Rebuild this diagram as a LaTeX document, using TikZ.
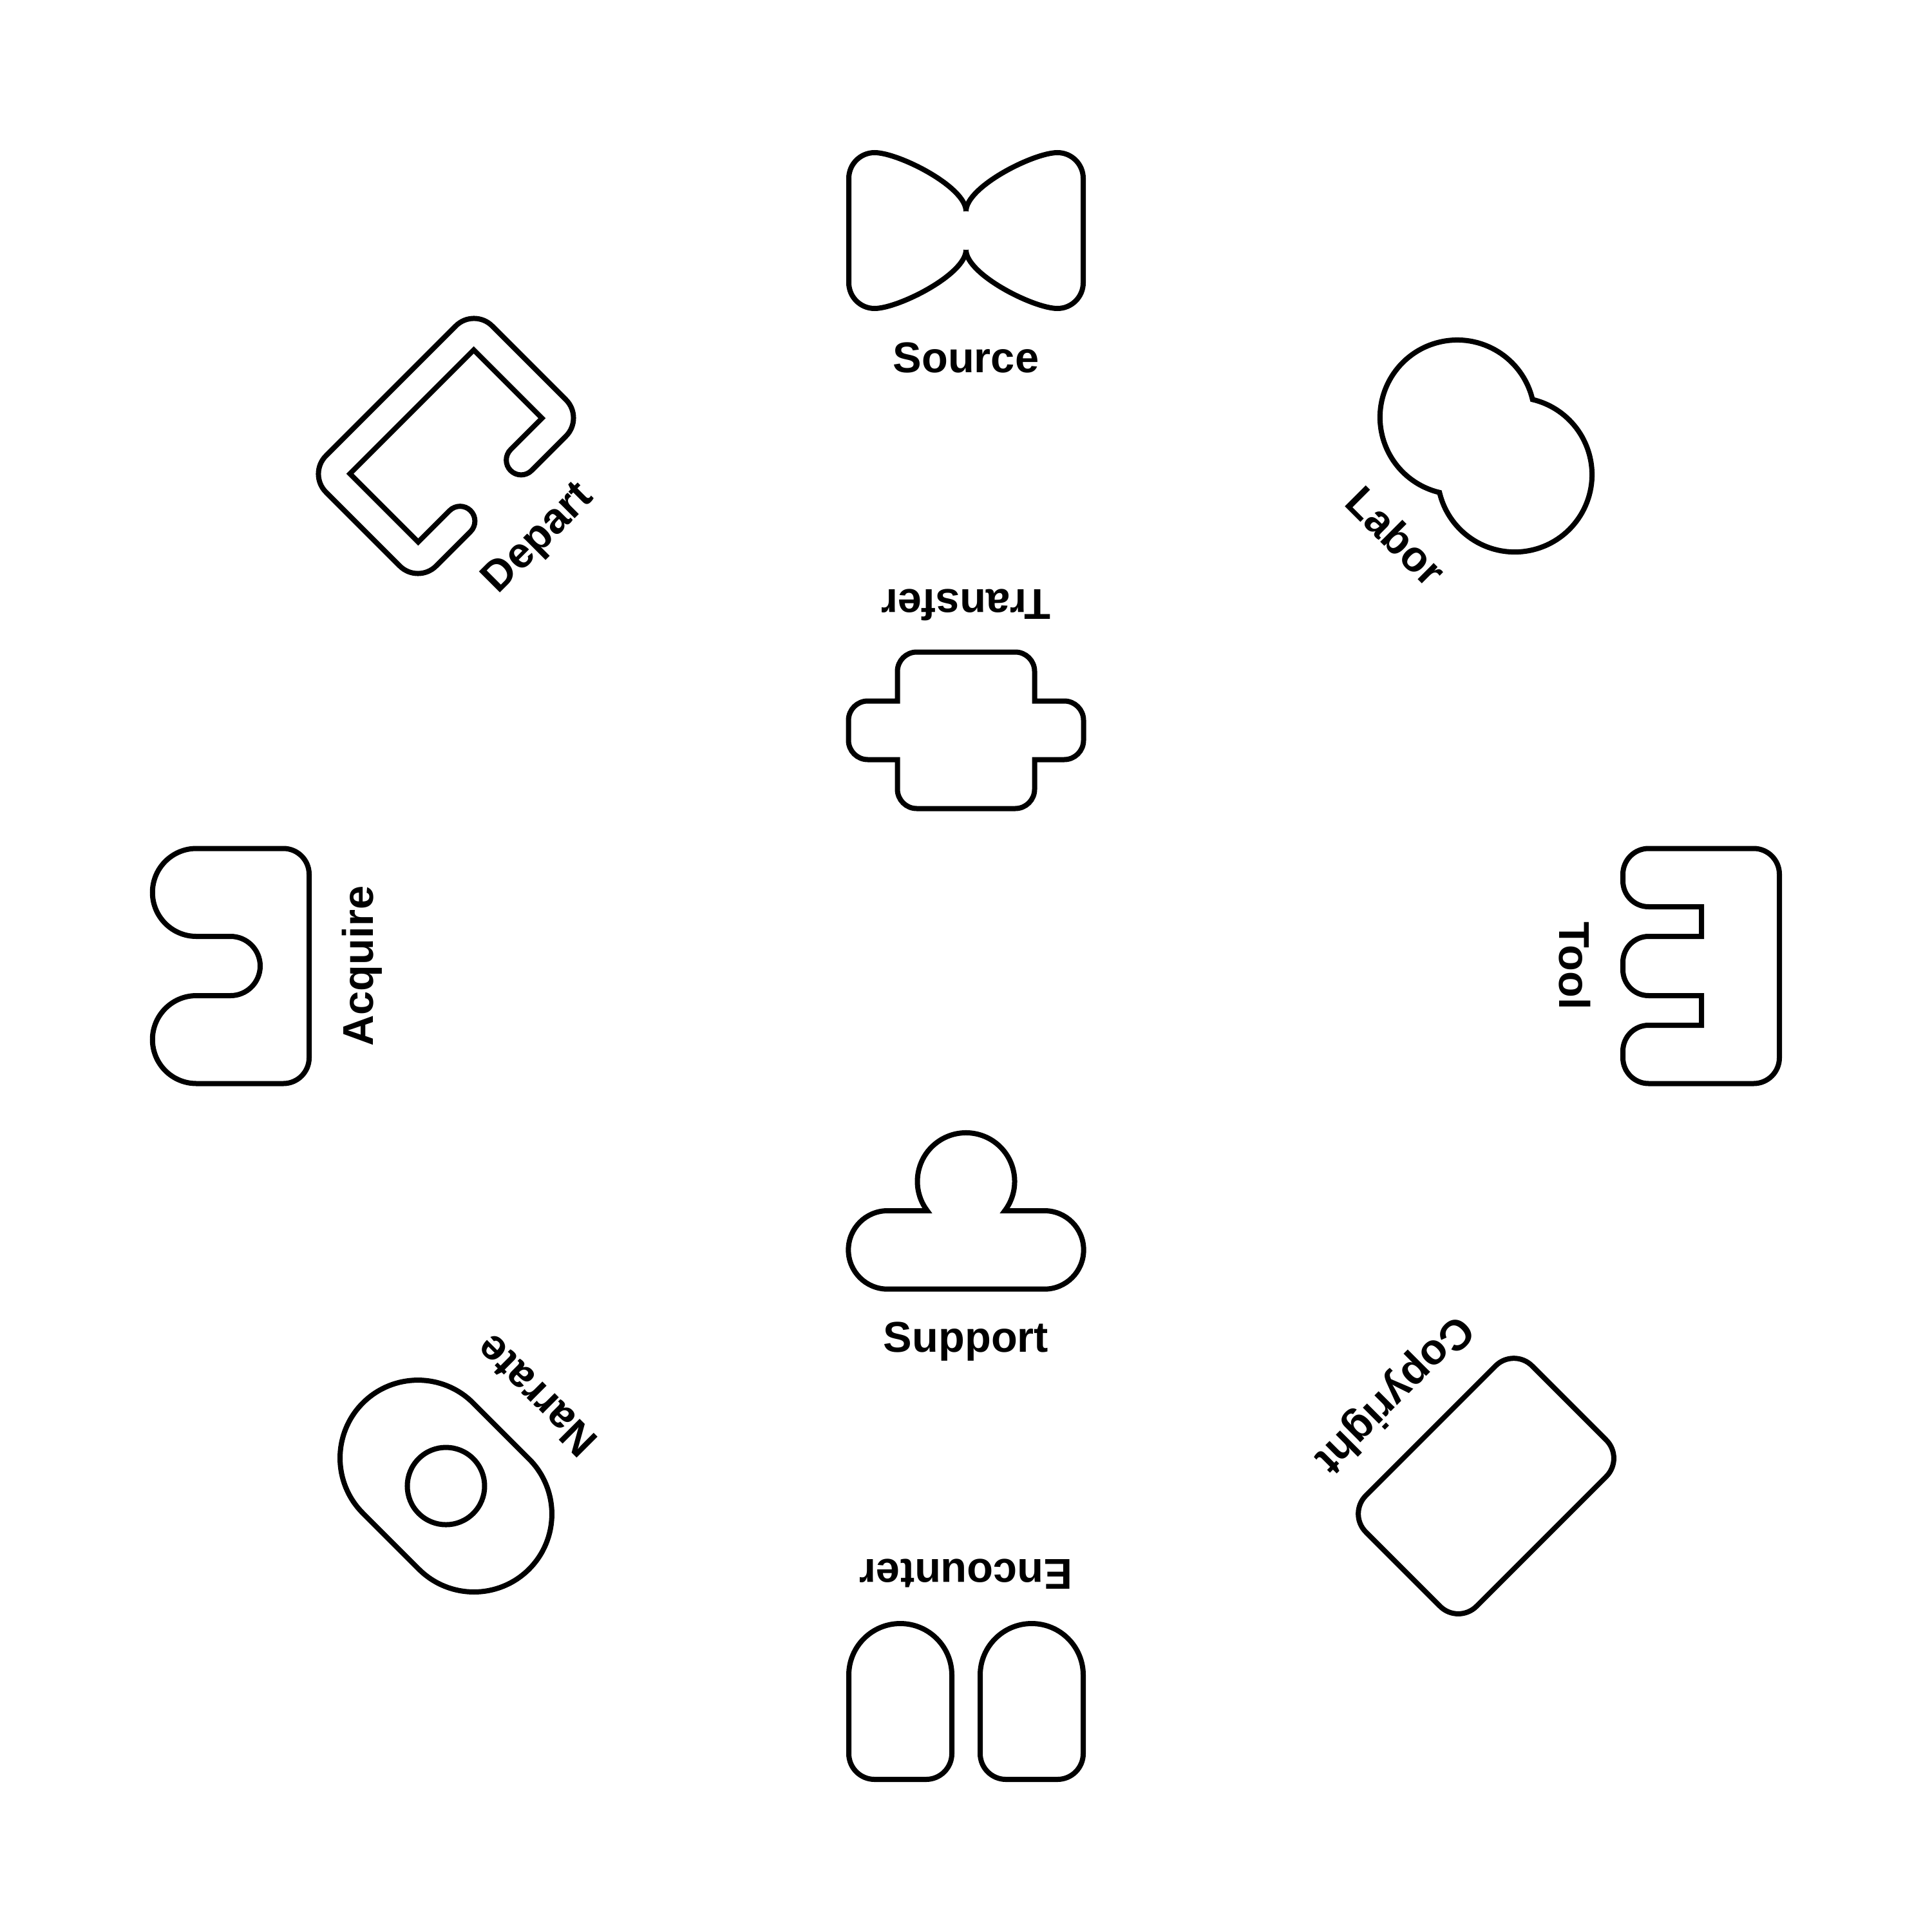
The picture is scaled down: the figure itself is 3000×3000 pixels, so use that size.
\documentclass[tikz,border=0pt]{standalone}
\usepackage{fontspec}
\setmainfont{Liberation Sans}

\begin{document}
\begin{tikzpicture}[x=0.01cm,y=-0.01cm,
    icon/.style={draw,line width=0.08cm},
    ring/.style={rotate around={-#1:(1500,1500)},shift={(1500,358)}},
    iconlabel/.style={anchor=base,inner sep=0pt,font=\bfseries\fontsize{19}{19}\selectfont}]
\useasboundingbox (0,0) rectangle (3000,3000);
\foreach \a/\r/\t in {0/922/Source,45/921/Labor,90/921/Tool,135/921/Copyright,180/921/Encounter,225/921/Narrate,270/921/Acquire,315/921/Depart,180/-585/Transfer,0/-599/Support} {
    \node[iconlabel,rotate=-\a] (\t) at ({1500+\r*sin(\a)},{1500-\r*cos(\a)}) {\t};
}
\begin{scope}[ring=0]
    \draw[icon] (0,-30) .. controls (0,-68) and (-105,-121) .. (-142,-121) arc[start angle=-90,end angle=-180,radius=40] -- (-182,81) arc[start angle=180,end angle=90,radius=40] .. controls (-105,121) and (0,68) .. (0,30);
    \draw[icon] (0,-30) .. controls (0,-68) and (105,-121) .. (142,-121) arc[start angle=-90,end angle=0,radius=40] -- (182,81) arc[start angle=0,end angle=90,radius=40] .. controls (105,121) and (0,68) .. (0,30);
\end{scope}
\begin{scope}[ring=45]
    \draw[icon] (0,-102) arc[start angle=-58.3,end angle=-301.7,radius=120] arc[start angle=121.7,end angle=-121.7,radius=120] -- cycle;
\end{scope}
\begin{scope}[ring=90]
    \draw[icon] (-142.5,-121) -- (142.5,-121) arc[start angle=-90,end angle=0,radius=40] -- (182.5,82) arc[start angle=0,end angle=90,radius=40] -- (132,122) arc[start angle=90,end angle=180,radius=40] -- (92,0) -- (46,0) -- (46,82) arc[start angle=0,end angle=90,radius=40] -- (-6,122) arc[start angle=90,end angle=180,radius=40] -- (-46,0) -- (-92,0) -- (-92,82) arc[start angle=0,end angle=90,radius=40] -- (-142.5,122) arc[start angle=90,end angle=180,radius=40] -- (-182.5,-81) arc[start angle=180,end angle=270,radius=40] -- cycle;
\end{scope}
\begin{scope}[ring=135]
    \draw[icon,rounded corners=0.4cm] (-182.5,-121.5) rectangle (182.5,121.5);
\end{scope}
\begin{scope}[ring=180]
    \foreach \x in {-102,102} {
        \draw[icon,shift={(\x,0)}] (-40,-121) -- (40,-121) arc[start angle=-90,end angle=0,radius=40] -- (80,41) arc[start angle=0,end angle=180,radius=80] -- (-80,-81) arc[start angle=180,end angle=270,radius=40] -- cycle;
    }
\end{scope}
\begin{scope}[ring=225]
    \draw[icon,rounded corners=1.21cm] (-182.5,-121) rectangle (182.5,121);
    \draw[icon] (0,0) circle[radius=60];
\end{scope}
\begin{scope}[ring=270]
    \draw[icon] (-142.5,122) -- (142.5,122) arc[start angle=90,end angle=0,radius=40] -- (182.5,-53) arc[start angle=0,end angle=-180,radius=68.25] -- (46,0) arc[start angle=0,end angle=180,radius=46] -- (-46,-53) arc[start angle=0,end angle=-180,radius=68.25] -- (-182.5,82) arc[start angle=180,end angle=90,radius=40] -- cycle;
\end{scope}
\begin{scope}[ring=315]
    \draw[icon] (67,75) -- (136,75) -- (136,-75) -- (-136,-75) -- (-136,75) -- (-67,75) arc[start angle=-90,end angle=90,radius=23] -- (-142.5,121) arc[start angle=90,end angle=180,radius=40] -- (-182.5,-81) arc[start angle=180,end angle=270,radius=40] -- (142.5,-121) arc[start angle=-90,end angle=0,radius=40] -- (182.5,81) arc[start angle=0,end angle=90,radius=40] -- (67,121) arc[start angle=90,end angle=270,radius=23] -- cycle;
\end{scope}
\begin{scope}[shift={(1500,1134)}]
    \draw[icon] (-76.5,-121.5) -- (76.5,-121.5) arc[start angle=-90,end angle=0,radius=30] -- (106.5,-45.5) -- (152.5,-45.5) arc[start angle=-90,end angle=0,radius=30] -- (182.5,15.5) arc[start angle=0,end angle=90,radius=30] -- (106.5,45.5) -- (106.5,91.5) arc[start angle=0,end angle=90,radius=30] -- (-76.5,121.5) arc[start angle=90,end angle=180,radius=30] -- (-106.5,45.5) -- (-152.5,45.5) arc[start angle=90,end angle=180,radius=30] -- (-182.5,-15.5) arc[start angle=180,end angle=270,radius=30] -- (-106.5,-45.5) -- (-106.5,-91.5) arc[start angle=180,end angle=270,radius=30] -- cycle;
\end{scope}
\begin{scope}[shift={(1500,1880)}]
    \draw[icon] (-60.2,0) arc[start angle=142.9,end angle=397.1,radius=75.5] -- (121.8,0) arc[start angle=-90,end angle=90,radius=60.85] -- (-121.8,121.7) arc[start angle=90,end angle=270,radius=60.85] -- cycle;
\end{scope}
\end{tikzpicture}
\end{document}
